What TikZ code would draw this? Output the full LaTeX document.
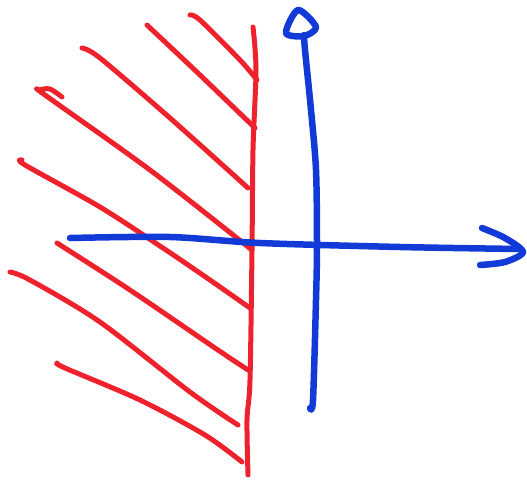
\documentclass[tikz,border=0pt]{standalone}
\begin{document}
\begin{tikzpicture}[x=1pt,y=-1pt,line cap=round,line join=round,
  redpen/.style={draw=penred,line width=5pt},
  bluepen/.style={draw=penblue,line width=6.5pt}]
\definecolor{penred}{RGB}{238,34,44}
\definecolor{penblue}{RGB}{18,58,214}
\useasboundingbox (0,0) rectangle (527,483);
% red boundary line
\draw[redpen] plot[smooth] coordinates {(253,27) (256,70) (253,150) (252,250) (250,380) (247,420) (248,475)};
% hatching
\draw[redpen] plot[smooth] coordinates {(190,15) (200,20) (240,60) (257,80)};
\draw[redpen] plot[smooth] coordinates {(147,25) (200,75) (255,128)};
\draw[redpen] plot[smooth] coordinates {(82,48) (100,58) (170,118) (248,188)};
\draw[redpen] plot[smooth] coordinates {(62,97) (50,89) (40,90) (45,95) (150,170) (252,250)};
\draw[redpen] plot[smooth] coordinates {(22,160) (25,165) (100,207) (163,248) (210,280) (250,308)};
\draw[redpen] plot[smooth] coordinates {(57,243) (130,290) (215,348) (248,370)};
\draw[redpen] plot[smooth] coordinates {(10,272) (30,280) (100,322) (190,392) (238,425)};
\draw[redpen] plot[smooth] coordinates {(57,363) (65,368) (140,400) (205,435) (242,462)};
% blue axes
\draw[bluepen] plot[smooth] coordinates {(70,238) (170,237) (260,243) (400,247) (520,249)};
\draw[bluepen] plot[smooth] coordinates {(482,228) (505,238) (523,252) (505,262) (480,265)};
\draw[bluepen] plot[smooth] coordinates {(310,408) (313,400) (316,300) (317,245) (316,170) (311,110) (305,50) (304,35)};
\draw[bluepen] plot[smooth cycle] coordinates {(286,33) (298,10) (316,27) (304,36)};
\end{tikzpicture}
\end{document}
